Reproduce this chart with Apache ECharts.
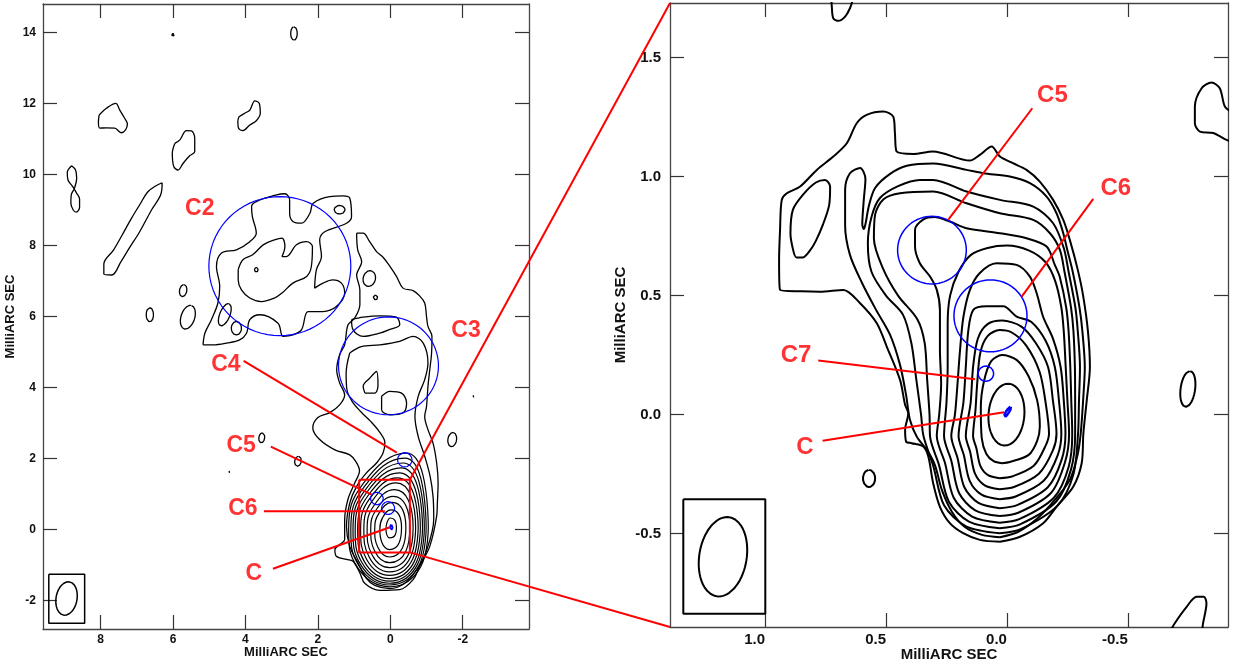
<!DOCTYPE html>
<html>
<head>
<meta charset="utf-8">
<title>MilliARC SEC maps</title>
<script src="https://cdn.jsdelivr.net/npm/echarts@6/dist/echarts.min.js"></script>
<style>
html, body { margin: 0; padding: 0; background: #fff; }
#main { width: 1234px; height: 666px; }
</style>
</head>
<body>
<div id="main"></div>
<script>
// ---- axes ----
var leftXRange = [-3.83, 9.59];
var leftYRange = [-2.81, 14.81];
var rightXRange = [-0.914, 1.393];
var rightYRange = [-0.892, 1.729];
var leftXTicks = [8, 6, 4, 2, 0, -2];
var leftYTicks = [-2, 0, 2, 4, 6, 8, 10, 12, 14];
var rightXTicks = [1.0, 0.5, 0.0, -0.5];
var rightYTicks = [-0.5, 0.0, 0.5, 1.0, 1.5];

// ---- left map (mas) ----
var blobNW = [[8.04,11.68],[7.84,11.87],[7.58,12.01],[7.47,11.82],[7.36,11.63],[7.26,11.43],[7.31,11.26],[7.43,11.18],[7.61,11.31],[7.84,11.32],[8.02,11.31],[8.06,11.49],[8.04,11.68]];
var blobN = [[5.95,10.88],[5.81,10.98],[5.63,11.24],[5.49,11.23],[5.40,11.03],[5.40,10.65],[5.54,10.53],[5.72,10.32],[5.86,10.13],[5.98,10.23],[6.02,10.60],[5.95,10.88]];
var blobNE = [[4.18,11.63],[4.02,11.73],[3.88,11.82],[3.74,12.08],[3.62,12.01],[3.59,11.73],[3.70,11.52],[3.88,11.40],[4.07,11.24],[4.19,11.31],[4.21,11.50],[4.18,11.63]];
var figureEight = [[8.80,10.25],[8.69,10.13],[8.66,9.90],[8.72,9.62],[8.81,9.43],[8.82,9.19],[8.76,9.01],[8.67,8.94],[8.58,9.08],[8.58,9.31],[8.67,9.49],[8.76,9.65],[8.90,9.85],[8.92,10.06],[8.80,10.25]];
var streak = [[6.30,9.77],[6.34,9.43],[6.59,9.01],[6.92,8.39],[7.20,7.94],[7.44,7.54],[7.69,7.17],[7.91,7.20],[7.91,7.48],[7.64,7.88],[7.42,8.27],[7.14,8.78],[6.92,9.15],[6.70,9.51],[6.48,9.68],[6.30,9.77]];
var c2Outer = [[5.17,5.20],[5.12,5.53],[4.94,5.91],[4.76,6.38],[4.71,6.85],[4.80,7.41],[4.66,7.79],[4.25,7.88],[3.88,8.11],[3.70,8.35],[3.81,8.82],[3.83,9.10],[3.70,9.24],[3.14,9.43],[2.91,9.46],[2.78,9.29],[2.78,8.91],[2.69,8.68],[2.45,8.63],[2.22,8.91],[2.13,9.19],[1.67,9.38],[1.30,9.40],[1.12,9.34],[1.07,8.82],[1.21,8.63],[1.81,8.39],[1.95,8.16],[1.90,7.69],[2.04,7.32],[2.09,6.80],[1.86,6.94],[1.59,7.03],[1.35,6.94],[1.26,6.66],[1.49,6.28],[1.86,6.14],[2.27,6.14],[2.45,5.63],[2.69,5.48],[2.96,5.44],[3.10,5.81],[3.60,6.05],[3.88,5.91],[3.97,5.53],[4.16,5.34],[4.52,5.25],[4.90,5.20],[5.17,5.20]];
var c2Inner = [[4.20,7.32],[4.07,7.60],[3.80,7.74],[3.51,8.02],[3.20,8.16],[2.99,8.21],[2.91,7.97],[2.99,7.69],[2.87,7.69],[2.59,8.02],[2.31,8.11],[2.15,7.97],[2.18,7.41],[2.31,7.13],[2.69,6.94],[2.99,6.66],[3.20,6.52],[3.56,6.42],[3.88,6.52],[4.11,6.75],[4.20,7.03],[4.20,7.32]];
var jetOuter = [[0.93,8.35],[0.75,8.35],[0.57,8.11],[0.38,7.83],[0.20,7.67],[0.01,7.41],[-0.17,7.13],[-0.35,6.80],[-0.63,6.73],[-0.81,6.58],[-0.95,6.38],[-1.00,6.00],[-1.04,5.72],[-1.15,5.44],[-1.14,4.97],[-1.09,4.50],[-1.04,4.03],[-1.00,3.46],[-0.95,3.18],[-1.04,2.81],[-1.18,2.43],[-1.28,1.87],[-1.32,1.31],[-1.30,0.74],[-1.28,0.37],[-1.09,-0.48],[-0.81,-1.04],[-0.63,-1.42],[-0.26,-1.70],[0.29,-1.72],[0.70,-1.53],[0.84,-1.23],[1.03,-0.90],[1.21,-0.85],[1.49,-0.76],[1.53,-0.57],[1.40,-0.43],[1.26,-0.29],[1.26,0.27],[1.17,0.84],[0.98,1.31],[0.85,1.65],[0.95,1.91],[1.12,2.10],[1.53,2.24],[1.95,2.53],[2.14,2.86],[2.00,3.15],[1.67,3.29],[1.40,3.51],[1.26,3.79],[1.40,4.13],[1.48,4.50],[1.40,4.92],[1.26,5.20],[1.17,5.76],[0.98,5.96],[0.84,6.33],[0.84,6.75],[0.93,7.17],[0.79,7.54],[0.90,7.88],[0.93,8.35]];
var jetSecond = [[1.12,4.97],[0.80,5.15],[0.29,5.20],[-0.26,5.30],[-0.63,5.44],[-0.91,5.25],[-1.04,4.69],[-0.95,4.22],[-0.77,3.75],[-0.68,3.18],[-0.77,2.62],[-0.95,2.06],[-1.10,1.49],[-1.18,0.93],[-1.20,0.30],[-1.00,-0.60],[-0.72,-1.15],[-0.40,-1.52],[0.01,-1.67],[0.43,-1.58],[0.66,-1.38],[0.89,-0.95],[1.12,-0.48],[1.21,0.08],[1.12,0.74],[0.93,1.21],[0.66,1.59],[0.38,1.87],[0.20,2.15],[0.15,2.45],[0.30,2.75],[0.55,3.05],[0.80,3.30],[1.05,3.60],[1.20,3.95],[1.22,4.40],[1.12,4.97]];
var c3Upper = [[1.07,5.91],[0.75,5.98],[0.29,6.02],[-0.17,5.98],[-0.26,5.77],[0.03,5.63],[0.29,5.53],[0.75,5.44],[1.03,5.63],[1.07,5.91]];
var c3Knot = [[0.70,3.84],[0.75,4.03],[0.57,4.26],[0.38,4.45],[0.34,4.07],[0.43,3.84],[0.70,3.84]];
var c3Lower = [[0.24,3.75],[0.01,3.89],[-0.31,3.84],[-0.45,3.56],[-0.35,3.28],[0.01,3.23],[0.24,3.37],[0.24,3.75]];
// core contours: [left x, right x, top y, bottom y, x of top]
var leftCoreLevels = [
  [0.12,-0.17,0.32,-0.24,0.00],
  [0.29,-0.31,0.55,-0.57,-0.02],
  [0.43,-0.43,0.76,-0.78,-0.05],
  [0.54,-0.54,0.93,-0.94,-0.08],
  [0.64,-0.63,1.12,-1.08,-0.12],
  [0.73,-0.70,1.31,-1.20,-0.16],
  [0.82,-0.77,1.45,-1.30,-0.20],
  [0.90,-0.83,1.59,-1.39,-0.25],
  [0.97,-0.89,1.73,-1.46,-0.30],
  [1.03,-0.94,1.87,-1.52,-0.35],
  [1.09,-0.99,2.01,-1.57,-0.40],
  [1.15,-1.05,2.15,-1.62,-0.45]
];
// small islands: [centre, semi-axis vector, other semi-axis]
var leftIslands = [
  [[6.0,13.94],[0,0.045],0.035],
  [[2.66,13.98],[0,0.19],0.09],
  [[6.64,6.05],[0,0.2],0.1],
  [[5.72,6.73],[-0.03,0.17],0.1],
  [[5.59,5.98],[-0.1,0.33],0.19],
  [[3.70,7.32],[0,0.07],0.05],
  [[4.57,6.05],[-0.12,0.31],0.14],
  [[4.25,5.67],[0,0.19],0.14],
  [[1.40,9.01],[0,0.12],0.15],
  [[0.58,7.07],[-0.05,0.22],0.17],
  [[0.41,6.54],[0,0.07],0.06],
  [[-1.71,2.53],[-0.03,0.2],0.12],
  [[3.55,2.58],[-0.02,0.14],0.08],
  [[2.55,1.92],[-0.02,0.14],0.09],
  [[4.45,1.62],[0,0.03],0.03],
  [[-2.29,3.75],[0,0.03],0.03]
];
var leftComponents = [
  { name: 'C2', center: [3.05, 7.42], r: 1.96 },
  { name: 'C3', center: [0.05, 4.61], r: 1.38 },
  { name: 'C4', center: [-0.40, 1.96], r: 0.20 },
  { name: 'C5', center: [0.37, 0.87], r: 0.175 },
  { name: 'C6', center: [0.06, 0.60], r: 0.18 }
];
var leftCoreMark = { center: [-0.03, 0.06], major: [0, 0.075], minor: 0.035 };
var leftBeam = { center: [8.94, -1.95], major: [-0.08, 0.47], minor: 0.29, box: [9.43, 8.44, -1.27, -2.65] };
var leftZoomBox = [0.86, -0.54, 1.40, -0.65];

// ---- right map (mas) ----
var level1 = [[0.029,-0.534],[-0.054,-0.513],[-0.150,-0.456],[-0.205,-0.387],[-0.274,-0.303],[-0.309,-0.204],[-0.316,-0.08],[-0.33,0.06],[-0.343,0.2],[-0.335,0.35],[-0.315,0.5],[-0.293,0.608],[-0.260,0.734],[-0.233,0.818],[-0.191,0.902],[-0.136,0.979],[-0.081,1.028],[-0.025,1.056],[0.029,1.084],[0.063,1.126],[0.112,1.091],[0.153,1.067],[0.306,1.105],[0.387,1.095],[0.456,1.105],[0.463,1.182],[0.470,1.252],[0.511,1.273],[0.580,1.259],[0.621,1.224],[0.662,1.140],[0.718,1.084],[0.786,1.028],[0.855,0.958],[0.910,0.930],[0.931,0.902],[0.938,0.776],[0.942,0.650],[0.938,0.524],[0.85,0.518],[0.773,0.516],[0.676,0.524],[0.607,0.468],[0.538,0.384],[0.497,0.286],[0.442,0.146],[0.421,0.041],[0.408,0.006],[0.421,-0.064],[0.417,-0.113],[0.394,-0.12],[0.346,-0.134],[0.325,-0.176],[0.305,-0.288],[0.277,-0.387],[0.236,-0.456],[0.181,-0.498],[0.112,-0.526],[0.029,-0.534]];
var level1Hole = [[0.884,0.692],[0.895,0.76],[0.885,0.86],[0.842,0.925],[0.790,0.975],[0.752,0.986],[0.731,0.958],[0.735,0.88],[0.760,0.8],[0.79,0.73],[0.814,0.69],[0.845,0.66],[0.87,0.66],[0.884,0.692]];
var level2 = [[0.029,-0.515],[-0.045,-0.493],[-0.128,-0.434],[-0.198,-0.358],[-0.260,-0.274],[-0.292,-0.17],[-0.305,-0.08],[-0.315,0.06],[-0.322,0.2],[-0.312,0.35],[-0.30,0.45],[-0.272,0.6],[-0.25,0.69],[-0.233,0.762],[-0.205,0.846],[-0.164,0.916],[-0.095,0.972],[-0.012,1.0],[0.098,1.014],[0.167,1.028],[0.305,1.055],[0.414,1.045],[0.483,1.011],[0.545,0.952],[0.57,0.88],[0.585,0.8],[0.592,0.78],[0.598,0.8],[0.592,0.9],[0.585,0.99],[0.607,1.036],[0.649,1.014],[0.669,0.944],[0.669,0.797],[0.649,0.671],[0.599,0.553],[0.541,0.44],[0.483,0.335],[0.442,0.209],[0.417,0.083],[0.401,-0.022],[0.372,-0.094],[0.331,-0.148],[0.298,-0.211],[0.269,-0.316],[0.227,-0.409],[0.174,-0.472],[0.103,-0.505],[0.029,-0.515]];
var level3 = [[0.03,-0.498],[-0.057,-0.481],[-0.210,-0.381],[-0.275,-0.25],[-0.294,-0.08],[-0.298,0.06],[-0.302,0.2],[-0.293,0.35],[-0.283,0.45],[-0.255,0.6],[-0.235,0.7],[-0.191,0.804],[-0.109,0.874],[0.029,0.902],[0.167,0.937],[0.305,0.986],[0.36,0.986],[0.45,0.96],[0.525,0.91],[0.56,0.83],[0.575,0.72],[0.56,0.6],[0.5,0.5],[0.43,0.42],[0.395,0.3],[0.375,0.15],[0.355,0.0],[0.345,-0.09],[0.304,-0.218],[0.260,-0.381],[0.169,-0.469],[0.03,-0.498]];
var level4 = [[0.03,-0.477],[-0.054,-0.461],[-0.203,-0.366],[-0.265,-0.23],[-0.282,-0.08],[-0.282,0.06],[-0.281,0.2],[-0.275,0.35],[-0.265,0.45],[-0.238,0.6],[-0.219,0.692],[-0.178,0.762],[-0.109,0.818],[0.029,0.846],[0.167,0.888],[0.305,0.937],[0.442,0.93],[0.51,0.905],[0.545,0.84],[0.55,0.74],[0.515,0.62],[0.45,0.5],[0.37,0.4],[0.34,0.3],[0.33,0.15],[0.32,0.0],[0.318,-0.09],[0.281,-0.211],[0.240,-0.366],[0.157,-0.449],[0.03,-0.477]];
var level5 = [[0.03,-0.454],[-0.051,-0.439],[-0.194,-0.349],[-0.255,-0.22],[-0.27,-0.08],[-0.266,0.06],[-0.262,0.2],[-0.255,0.35],[-0.245,0.45],[-0.218,0.58],[-0.198,0.629],[-0.164,0.706],[-0.081,0.741],[0.029,0.762],[0.167,0.783],[0.236,0.811],[0.30,0.83],[0.345,0.82],[0.38,0.776],[0.38,0.706],[0.36,0.636],[0.318,0.58],[0.29,0.524],[0.277,0.44],[0.277,0.272],[0.272,0.13],[0.28,0.0],[0.29,-0.09],[0.256,-0.203],[0.220,-0.349],[0.144,-0.428],[0.03,-0.454]];
var level6 = [[0.03,-0.426],[-0.047,-0.412],[-0.182,-0.329],[-0.24,-0.2],[-0.257,-0.08],[-0.25,0.06],[-0.243,0.2],[-0.235,0.35],[-0.225,0.45],[-0.2,0.56],[-0.16,0.64],[-0.09,0.69],[0.0,0.71],[0.08,0.70],[0.15,0.67],[0.2,0.6],[0.235,0.5],[0.245,0.38],[0.245,0.2],[0.25,0.05],[0.26,-0.09],[0.230,-0.194],[0.198,-0.329],[0.131,-0.402],[0.03,-0.426]];
var level7 = [[0.03,-0.393],[-0.042,-0.380],[-0.169,-0.305],[-0.226,-0.19],[-0.242,-0.08],[-0.235,0.06],[-0.222,0.2],[-0.19,0.32],[-0.15,0.41],[-0.123,0.51],[-0.095,0.58],[-0.04,0.629],[0.043,0.636],[0.112,0.595],[0.153,0.524],[0.18,0.41],[0.194,0.27],[0.205,0.12],[0.215,0.0],[0.23,-0.09],[0.204,-0.183],[0.176,-0.305],[0.118,-0.371],[0.03,-0.393]];
var level8 = [[0.03,-0.355],[-0.036,-0.344],[-0.152,-0.278],[-0.21,-0.17],[-0.225,-0.08],[-0.215,0.06],[-0.198,0.2],[-0.16,0.31],[-0.1,0.39],[-0.04,0.412],[0.015,0.455],[0.084,0.455],[0.139,0.44],[0.16,0.35],[0.17,0.2],[0.18,0.05],[0.2,-0.09],[0.178,-0.171],[0.154,-0.278],[0.105,-0.336],[0.03,-0.355]];
var level9 = [[0.03,-0.313],[-0.029,-0.304],[-0.132,-0.248],[-0.19,-0.15],[-0.205,-0.08],[-0.19,0.06],[-0.17,0.2],[-0.12,0.3],[-0.06,0.37],[0.02,0.395],[0.08,0.38],[0.12,0.32],[0.14,0.2],[0.15,0.05],[0.17,-0.09],[0.152,-0.157],[0.132,-0.248],[0.092,-0.297],[0.03,-0.313]];
var level10 = [[0.03,-0.267],[-0.021,-0.260],[-0.111,-0.215],[-0.16,-0.13],[-0.174,-0.08],[-0.16,0.05],[-0.135,0.18],[-0.08,0.29],[-0.02,0.345],[0.03,0.355],[0.08,0.33],[0.11,0.26],[0.123,0.13],[0.13,0.02],[0.14,-0.09],[0.126,-0.142],[0.110,-0.215],[0.078,-0.254],[0.03,-0.267]];
var level11 = [[0.02,-0.204],[-0.012,-0.199],[-0.090,-0.169],[-0.125,-0.11],[-0.136,-0.05],[-0.125,0.06],[-0.09,0.16],[-0.04,0.23],[0.02,0.25],[0.065,0.225],[0.095,0.14],[0.108,0.03],[0.104,-0.1],[0.085,-0.165],[0.055,-0.195],[0.02,-0.204]];
var level12 = { center: [0.002, 0.0], major: [-0.01, 0.13], minor: 0.074 };
var rightArcTop = [[0.726,1.75],[0.724,1.714],[0.718,1.665],[0.697,1.654],[0.669,1.672],[0.649,1.707],[0.635,1.75]];
var rightArcEdge = [[-0.93,1.27],[-0.901,1.294],[-0.880,1.371],[-0.846,1.395],[-0.805,1.371],[-0.777,1.294],[-0.777,1.224],[-0.798,1.189],[-0.853,1.183],[-0.901,1.157],[-0.93,1.145]];
var rightArcBottom = [[-0.67,-0.92],[-0.694,-0.876],[-0.743,-0.807],[-0.784,-0.765],[-0.814,-0.765],[-0.825,-0.792],[-0.811,-0.876],[-0.805,-0.92]];
var rightIslands = [
  [[0.570,-0.268],[0,0.036],0.025],
  [[-0.748,0.108],[-0.01,0.075],0.03]
];
var rightComponents = [
  { name: 'C5', center: [0.31, 0.691], r: 0.142 },
  { name: 'C6', center: [0.068, 0.415], r: 0.151 },
  { name: 'C7', center: [0.087, 0.172], r: 0.032 }
];
var rightCoreMark = { center: [-0.002, 0.011], major: [-0.0144, 0.0228], minor: 0.006 };
var rightBeam = { center: [1.174, -0.597], major: [-0.026, 0.166], minor: 0.098, box: [1.338, 0.999, -0.355, -0.836] };

// ---- annotations ----
var leftLabels = [
  { name: 'C2', at: [5.26, 9.03] }, { name: 'C3', at: [-2.09, 5.60] },
  { name: 'C4', at: [4.54, 4.64] }, { name: 'C5', at: [4.12, 2.36] },
  { name: 'C6', at: [4.07, 0.57] }, { name: 'C', at: [3.77, -1.25] }
];
var leftPointers = [
  [[4.05,4.75],[-0.18,2.16]], [[3.30,2.33],[0.51,0.98]],
  [[3.49,0.51],[0.15,0.51]], [[3.24,-1.11],[0.01,0.06]]
];
var rightLabels = [
  { name: 'C5', at: [-0.188, 1.339] }, { name: 'C6', at: [-0.450, 0.950] },
  { name: 'C7', at: [0.872, 0.251] }, { name: 'C', at: [0.835, -0.136] }
];
var rightPointers = [
  [[-0.105,1.287],[0.243,0.818]], [[-0.357,0.906],[-0.061,0.496]],
  [[0.780,0.227],[0.132,0.149]], [[0.762,-0.110],[0.012,0.010]]
];

var FONT = '"Liberation Sans", Arial, Helvetica, sans-serif';
var series = [];

function ellipse(c, major, minor) {
  var len = Math.hypot(major[0], major[1]);
  var ux = -major[1] / len * minor, uy = major[0] / len * minor;
  var pts = [];
  for (var i = 0; i <= 72; i++) {
    var t = i / 72 * Math.PI * 2;
    pts.push([c[0] + major[0] * Math.cos(t) + ux * Math.sin(t),
              c[1] + major[1] * Math.cos(t) + uy * Math.sin(t)]);
  }
  return pts;
}

function egg(l) {
  var xl = l[0], xr = l[1], yt = l[2], yb = l[3], xt = l[4];
  return [[xr, 0.05], [xr * 0.8, yb * 0.65], [0.02, yb], [xl * 0.8, yb * 0.65],
          [xl, 0], [xt + (xl - xt) * 0.75, yt * 0.6], [xt, yt],
          [xt + (xr - xt) * 0.75, 0.1 + (yt - 0.1) * 0.7], [xr, 0.05]];
}

function box(b) {
  return [[b[0], b[2]], [b[1], b[2]], [b[1], b[3]], [b[0], b[3]], [b[0], b[2]]];
}

function path(pts, panel, color, width, smooth, z) {
  series.push({
    type: 'line', xAxisIndex: panel * 2, yAxisIndex: panel * 2,
    data: pts, symbol: 'none', showSymbol: false, smooth: smooth,
    silent: true, animation: false, z: z,
    lineStyle: { color: color, width: width }
  });
}

// left contours
[blobNW, blobN, blobNE, figureEight, streak, c2Outer, c2Inner, jetOuter, jetSecond, c3Upper, c3Knot, c3Lower]
  .forEach(function (p) { path(p, 0, '#000', 1.3, 0.35, 2); });
leftCoreLevels.forEach(function (l) { path(egg(l), 0, '#000', 1.2, 0.45, 2); });
leftIslands.forEach(function (e) { path(ellipse(e[0], e[1], e[2]), 0, '#000', 1.3, false, 2); });
path(ellipse(leftBeam.center, leftBeam.major, leftBeam.minor), 0, '#000', 1.5, false, 2);
path(box(leftBeam.box), 0, '#000', 1.5, false, 2);
leftComponents.forEach(function (c) { path(ellipse(c.center, [0, c.r], c.r), 0, '#0000ff', 1.2, false, 3); });
path(ellipse(leftCoreMark.center, leftCoreMark.major, leftCoreMark.minor), 0, '#0000ff', 1.8, false, 3);
path(box(leftZoomBox), 0, '#ff0000', 2, false, 4);
leftPointers.forEach(function (p) { path(p, 0, '#ff0000', 2, false, 4); });

// right contours
[level1, level1Hole, level2, level3, level4, level5, level6, level7, level8, level9, level10, level11, rightArcTop, rightArcEdge, rightArcBottom]
  .forEach(function (p) { path(p, 1, '#000', 2, 0.3, 2); });
path(ellipse(level12.center, level12.major, level12.minor), 1, '#000', 2, false, 2);
rightIslands.forEach(function (e) { path(ellipse(e[0], e[1], e[2]), 1, '#000', 2, false, 2); });
path(ellipse(rightBeam.center, rightBeam.major, rightBeam.minor), 1, '#000', 2, false, 2);
path(box(rightBeam.box), 1, '#000', 2, false, 2);
rightComponents.forEach(function (c) { path(ellipse(c.center, [0, c.r], c.r), 1, '#0000ff', 1.5, false, 3); });
path(ellipse(rightCoreMark.center, rightCoreMark.major, rightCoreMark.minor), 1, '#0000ff', 2.5, false, 3);
rightPointers.forEach(function (p) { path(p, 1, '#ff0000', 2, false, 4); });

function labelSeries(list, panel, size) {
  series.push({
    type: 'scatter', xAxisIndex: panel * 2, yAxisIndex: panel * 2,
    symbolSize: 1, itemStyle: { color: 'rgba(0,0,0,0)' }, silent: true, z: 5,
    label: { show: true, position: 'inside', formatter: '{b}', color: '#ff0000',
             textBorderWidth: 0, fontSize: size, fontWeight: 'bold', fontFamily: FONT },
    data: list.map(function (l) { return { name: l.name, value: l.at }; })
  });
}
labelSeries(leftLabels, 0, 23);
labelSeries(rightLabels, 1, 24);

function axis(grid, range, ticks, inverse, position, labels, size, fmt, margin, align, name, nameGap, nameSize) {
  return {
    type: 'value', gridIndex: grid, min: range[0], max: range[1], inverse: inverse,
    position: position, splitLine: { show: false },
    axisLine: { show: true, onZero: false, lineStyle: { color: '#444', width: 1.3 } },
    axisTick: { show: true, inside: true, length: 14, customValues: ticks, lineStyle: { color: '#333', width: 1.2 } },
    axisLabel: { show: labels, customValues: ticks, formatter: fmt, margin: margin, align: align,
                 color: '#111', fontSize: size, fontWeight: 'bold', fontFamily: FONT },
    name: name, nameLocation: 'middle', nameGap: nameGap, nameMoveOverlap: false,
    nameTextStyle: { color: '#111', fontSize: nameSize, fontWeight: 'bold', fontFamily: FONT }
  };
}
function intFmt(v) { return String(v); }
function oneFmt(v) { return v.toFixed(1); }

var option = {
  backgroundColor: '#fff',
  animation: false,
  grid: [
    { left: 43, top: 4, width: 486, height: 625, outerBoundsMode: 'none' },
    { left: 670, top: 3, width: 558, height: 624, outerBoundsMode: 'none' }
  ],
  xAxis: [
    axis(0, leftXRange, leftXTicks, true, 'bottom', true, 12, intFmt, 5, 'center', 'MilliARC SEC', 17, 13),
    axis(0, leftXRange, leftXTicks, true, 'top', false, 12, intFmt, 5, 'center', '', 0, 13),
    axis(1, rightXRange, rightXTicks, true, 'bottom', true, 15, oneFmt, 5, 'right', 'MilliARC SEC', 20, 15),
    axis(1, rightXRange, rightXTicks, true, 'top', false, 15, oneFmt, 5, 'right', '', 0, 15)
  ],
  yAxis: [
    axis(0, leftYRange, leftYTicks, false, 'left', true, 12, intFmt, 7, 'right', 'MilliARC SEC', 26, 13),
    axis(0, leftYRange, leftYTicks, false, 'right', false, 12, intFmt, 7, 'left', '', 0, 13),
    axis(1, rightYRange, rightYTicks, false, 'left', true, 15, oneFmt, 9, 'right', 'MilliARC SEC', 42, 15),
    axis(1, rightYRange, rightYTicks, false, 'right', false, 15, oneFmt, 9, 'left', '', 0, 15)
  ],
  series: series
};

var myChart = echarts.init(document.getElementById('main'));
myChart.setOption(option);

// red lines joining the zoom box to the right-hand frame
var a1 = myChart.convertToPixel({ xAxisIndex: 0, yAxisIndex: 0 }, [leftZoomBox[1], leftZoomBox[2]]);
var a2 = myChart.convertToPixel({ xAxisIndex: 0, yAxisIndex: 0 }, [leftZoomBox[1], leftZoomBox[3]]);
var b1 = myChart.convertToPixel({ xAxisIndex: 2, yAxisIndex: 2 }, [rightXRange[1], rightYRange[1]]);
var b2 = myChart.convertToPixel({ xAxisIndex: 2, yAxisIndex: 2 }, [rightXRange[1], rightYRange[0]]);
myChart.setOption({
  graphic: [
    { type: 'line', z: 100, silent: true, shape: { x1: a1[0], y1: a1[1], x2: b1[0], y2: b1[1] }, style: { stroke: '#ff0000', lineWidth: 2 } },
    { type: 'line', z: 100, silent: true, shape: { x1: a2[0], y1: a2[1], x2: b2[0], y2: b2[1] }, style: { stroke: '#ff0000', lineWidth: 2 } }
  ]
});
</script>
</body>
</html>
